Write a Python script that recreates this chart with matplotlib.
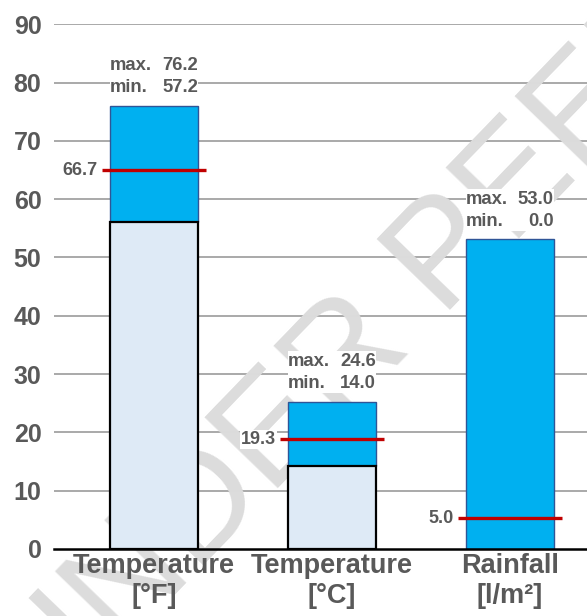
import matplotlib
matplotlib.use('Agg')
import matplotlib.pyplot as plt
from matplotlib.patches import Rectangle
import numpy as np

# categories and values (drawn heights, printed labels as shown)
categories = ['Temperature\n[°F]', 'Temperature\n[°C]', 'Rainfall\n[l/m²]']
bar_min = [56.1, 14.3, 0.0]
bar_max = [76.0, 25.3, 53.1]
bar_mean = [65.0, 18.8, 5.3]
min_labels = ['57.2', '14.0', '0.0']
max_labels = ['76.2', '24.6', '53.0']
mean_labels = ['66.7', '19.3', '5.0']
yticks = [0, 10, 20, 30, 40, 50, 60, 70, 80, 90]

plt.rcParams['font.family'] = ['Liberation Sans', 'DejaVu Sans']
grey_text = '#595959'
note_size = 13.3

fig = plt.figure(figsize=(5.87, 6.16), dpi=100)
ax = fig.add_axes([54 / 587, 67 / 616, 533 / 587, 524.7 / 616])

x = np.arange(len(categories))
width = 0.494

#gridlines drawn by hand so the tick labels stay above the watermark
for t in yticks[1:]:
    ax.axhline(t, color='#a3a3a3', linewidth=1.3, zorder=0.5)

#blue upper part
ax.bar(x, np.array(bar_max) - np.array(bar_min), width, bottom=bar_min,
       color='#00B0F0', edgecolor='#2F5597', linewidth=1.0, zorder=2)
#light lower part with black edge
ax.bar(x[:2], bar_min[:2], width, color='#DEEAF6', edgecolor='black',
       linewidth=1.6, zorder=2.1)

#mean lines
ax.hlines(bar_mean, x - 0.292, x + 0.292, color='#C00000', linewidth=2.4, zorder=3)

for i in range(len(x)):
    ax.annotate(mean_labels[i], (x[i] - 0.292, bar_mean[i]), xytext=(-3, 0),
                textcoords='offset points', ha='right', va='center',
                fontsize=13, fontweight='bold', color=grey_text, zorder=4,
                bbox=dict(facecolor='white', edgecolor='none', pad=0.5))
    # white box behind max/min text
    ax.add_patch(Rectangle((x[i] - width / 2, bar_max[i] + 1.4), width, 7.2,
                           facecolor='white', edgecolor='none', zorder=1.8))
    left = x[i] - width / 2
    right = x[i] + width / 2
    ax.annotate('min.', (left, bar_max[i]), xytext=(0, 13), textcoords='offset points',
                ha='left', va='center', fontsize=note_size, fontweight='bold',
                color=grey_text, zorder=4)
    ax.annotate(min_labels[i], (right, bar_max[i]), xytext=(0, 13), textcoords='offset points',
                ha='right', va='center', fontsize=note_size, fontweight='bold',
                color=grey_text, zorder=4)
    ax.annotate('max.', (left, bar_max[i]), xytext=(0, 29), textcoords='offset points',
                ha='left', va='center', fontsize=note_size, fontweight='bold',
                color=grey_text, zorder=4)
    ax.annotate(max_labels[i], (right, bar_max[i]), xytext=(0, 29), textcoords='offset points',
                ha='right', va='center', fontsize=note_size, fontweight='bold',
                color=grey_text, zorder=4)

#watermark behind bars
ax.text(46 / 587, -112 / 616, 'UNDER PEER REVIEW', transform=fig.transFigure,
        rotation=46, rotation_mode='anchor', ha='left', va='baseline',
        fontsize=107, color='#dcdcdc', zorder=1, clip_on=False)

ax.set_ylim(0, 90)
ax.set_xlim(-0.562, 2.433)
ax.set_yticks(yticks)
ax.set_yticklabels([str(t) for t in yticks], fontsize=18, fontweight='bold', color=grey_text)
ax.set_xticks(x)
ax.set_xticklabels(categories, fontsize=19.5, fontweight='bold', color=grey_text,
                   linespacing=1.2)
ax.tick_params(axis='both', length=0)
ax.tick_params(axis='y', pad=9)
ax.tick_params(axis='x', pad=3)

for side in ['top', 'right', 'left']:
    ax.spines[side].set_visible(False)
ax.spines['bottom'].set_color('black')
ax.spines['bottom'].set_linewidth(1.8)
ax.spines['bottom'].set_zorder(3)

fig.savefig('out.png', dpi=100)
